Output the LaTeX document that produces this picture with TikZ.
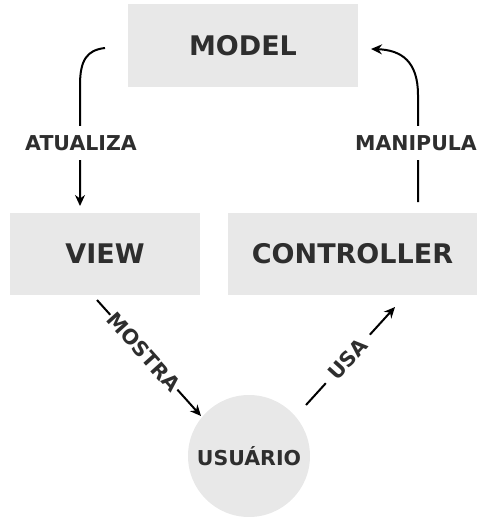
\documentclass[tikz,border=0pt]{standalone}
\usepackage{fontspec}
\setmainfont{DejaVu Sans}
\usetikzlibrary{arrows.meta}
\definecolor{boxgray}{HTML}{E8E8E8}
\definecolor{txt}{HTML}{2E2E2E}
\begin{document}
\begin{tikzpicture}[x=1pt,y=-1pt,
  box/.style={fill=boxgray,draw=none,inner sep=0pt,text=txt,font=\fontsize{27}{31}\selectfont\bfseries},
  usr/.style={circle,fill=boxgray,draw=none,inner sep=0pt,minimum size=122pt,text=txt,font=\fontsize{20.5}{24}\selectfont\bfseries},
  lbl/.style={fill=white,inner sep=0pt,text=txt,font=\fontsize{20.5}{24}\selectfont\bfseries},
  conn/.style={line width=2pt,black,-{Stealth[length=11pt,width=10pt]}}]
\useasboundingbox (0,0) rectangle (477,517);
\node[box,minimum width=230pt,minimum height=83pt] (model) at (243,45.5) {MODEL};
\node[box,minimum width=190pt,minimum height=82pt] (view) at (105,254) {VIEW};
\node[box,minimum width=249pt,minimum height=82pt] (ctrl) at (352.5,254) {CONTROLLER};
\node[usr] (user) at (249,456) {USUÁRIO};
\coordinate (a1) at (105,48);
\coordinate (a2) at (80,206);
\draw[conn] (a1) .. controls (87,50) and (80,60) .. (80,85) -- (a2);
\node[lbl,inner ysep=9pt] (atu) at (81,143) {ATUALIZA};
\coordinate (m1) at (418,202);
\coordinate (m2) at (371,49);
\draw[conn] (m1) -- (418,95) .. controls (418,62) and (402,50) .. (m2);
\node[lbl,inner ysep=9pt] (man) at (416,143) {MANIPULA};
\coordinate (s1) at (97,300);
\coordinate (s2) at (201,416);
\draw[conn] (s1) -- node[lbl,sloped,pos=0.45,inner xsep=1pt,inner ysep=2pt] (mos) {MOSTRA} (s2);
\coordinate (u1) at (306,405);
\coordinate (u2) at (395,307);
\draw[conn] (u1) -- node[lbl,sloped,pos=0.47,inner xsep=9pt,inner ysep=2pt] (usa) {USA} (u2);
\end{tikzpicture}
\end{document}
